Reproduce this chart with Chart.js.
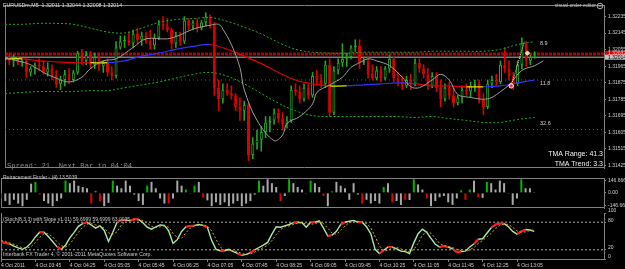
<!DOCTYPE html>
<html><head><meta charset="utf-8">
<script src="https://cdn.jsdelivr.net/npm/chart.js@4/dist/chart.umd.min.js"></script>
<style>
html,body{margin:0;padding:0;background:#000;width:625px;height:269px;overflow:hidden}
canvas{position:absolute;left:0}
</style></head><body>
<canvas id="c1" width="625" height="173" style="top:0"></canvas>
<canvas id="c2" width="625" height="40" style="top:173px"></canvas>
<canvas id="c3" width="625" height="61" style="top:208px"></canvas>
<script>
// ---------- DATA ----------
const openP = [1.32005,1.32015,1.31994,1.32005,1.31984,1.31994,1.31931,1.31952,1.31973,1.31963,
1.31931,1.31952,1.31911,1.31869,1.31890,1.31921,1.31890,1.31931,1.32036,1.31994,
1.32026,1.31973,1.32015,1.31963,1.31984,1.31931,1.31911,1.32067,1.32099,1.32109,
1.32088,1.32141,1.32109,1.32130,1.32099,1.32078,1.32120,1.32193,1.32182,1.32162,
1.32088,1.32130,1.32099,1.32214,1.32182,1.32203,1.32172,1.32203,1.32235,1.32193,
1.31848,1.31785,1.31837,1.31816,1.31806,1.31743,1.31722,1.31754,1.31482,1.31544,
1.31565,1.31607,1.31659,1.31670,1.31712,1.31680,1.31649,1.31670,1.31837,1.31827,
1.31785,1.31848,1.31806,1.31911,1.31890,1.31869,1.31973,1.31712,1.31942,1.31984,
1.32005,1.32015,1.32067,1.32078,1.31984,1.31994,1.31921,1.31900,1.31942,1.31900,
1.31952,1.32005,1.31900,1.31879,1.31858,1.31890,1.31869,1.31984,1.31952,1.31921,
1.31858,1.31911,1.31848,1.31785,1.31848,1.31806,1.31764,1.31795,1.31837,1.31827,
1.31858,1.31869,1.31785,1.31743,1.31869,1.31890,1.31879,1.31973,1.31952,1.31911,
1.31869,1.31973,1.32088,1.31994,1.32011];
const highP = [1.32046,1.32036,1.32026,1.32015,1.32005,1.32005,1.31963,1.31984,1.32005,1.31994,
1.31984,1.31973,1.31942,1.31911,1.31942,1.31952,1.31942,1.32046,1.32057,1.32046,
1.32046,1.32036,1.32036,1.31994,1.32005,1.31963,1.32099,1.32130,1.32130,1.32151,
1.32162,1.32172,1.32151,1.32151,1.32162,1.32141,1.32214,1.32235,1.32224,1.32172,
1.32151,1.32151,1.32235,1.32224,1.32214,1.32224,1.32214,1.32256,1.32245,1.32203,
1.31890,1.31869,1.31869,1.31858,1.31816,1.31795,1.31775,1.31764,1.31576,1.31618,
1.31638,1.31691,1.31691,1.31733,1.31733,1.31712,1.31691,1.31858,1.31869,1.31858,
1.31869,1.31869,1.31931,1.31942,1.31921,1.31994,1.32005,1.31963,1.32005,1.32088,
1.32036,1.32078,1.32109,1.32109,1.32015,1.32015,1.31973,1.31963,1.31963,1.31963,
1.32026,1.32015,1.31931,1.31911,1.31911,1.31921,1.32005,1.32005,1.31973,1.31952,
1.31931,1.31931,1.31890,1.31869,1.31879,1.31858,1.31806,1.31858,1.31869,1.31879,
1.31890,1.31890,1.31816,1.31890,1.31911,1.31921,1.31994,1.32067,1.31994,1.31931,
1.31994,1.32120,1.32099,1.32026,1.32044];
const lowP = [1.31984,1.31973,1.31963,1.31973,1.31963,1.31900,1.31911,1.31921,1.31942,1.31921,
1.31911,1.31890,1.31848,1.31837,1.31858,1.31869,1.31879,1.31921,1.31973,1.31973,
1.31952,1.31952,1.31942,1.31931,1.31911,1.31890,1.31900,1.32057,1.32067,1.32078,
1.32067,1.32088,1.32078,1.32088,1.32057,1.32057,1.32109,1.32162,1.32151,1.32057,
1.32067,1.32078,1.32088,1.32162,1.32162,1.32151,1.32162,1.32182,1.32172,1.31806,
1.31722,1.31764,1.31806,1.31785,1.31722,1.31670,1.31670,1.31450,1.31461,1.31513,
1.31502,1.31576,1.31607,1.31649,1.31659,1.31618,1.31628,1.31659,1.31806,1.31764,
1.31775,1.31785,1.31795,1.31869,1.31848,1.31848,1.31691,1.31701,1.31921,1.31963,
1.31963,1.32005,1.32046,1.31952,1.31973,1.31900,1.31890,1.31890,1.31879,1.31890,
1.31931,1.31879,1.31858,1.31837,1.31848,1.31837,1.31858,1.31931,1.31900,1.31837,
1.31848,1.31827,1.31743,1.31775,1.31785,1.31743,1.31754,1.31764,1.31806,1.31795,
1.31827,1.31764,1.31701,1.31733,1.31848,1.31858,1.31869,1.31931,1.31890,1.31837,
1.31858,1.31952,1.31963,1.31973,1.32008];
const closeP = [1.32015,1.31994,1.32005,1.31984,1.31994,1.31931,1.31952,1.31973,1.31963,1.31931,
1.31952,1.31911,1.31869,1.31890,1.31921,1.31890,1.31931,1.32036,1.31994,1.32026,
1.31973,1.32015,1.31963,1.31984,1.31931,1.31911,1.32067,1.32099,1.32109,1.32088,
1.32141,1.32109,1.32130,1.32099,1.32078,1.32120,1.32193,1.32182,1.32162,1.32088,
1.32130,1.32099,1.32214,1.32182,1.32203,1.32172,1.32203,1.32235,1.32193,1.31848,
1.31785,1.31837,1.31816,1.31806,1.31743,1.31722,1.31754,1.31482,1.31544,1.31565,
1.31607,1.31659,1.31670,1.31712,1.31680,1.31649,1.31670,1.31837,1.31827,1.31785,
1.31848,1.31806,1.31911,1.31890,1.31869,1.31973,1.31712,1.31942,1.31984,1.32005,
1.32015,1.32067,1.32078,1.31984,1.31994,1.31921,1.31900,1.31942,1.31900,1.31952,
1.32005,1.31900,1.31879,1.31858,1.31890,1.31869,1.31984,1.31952,1.31921,1.31858,
1.31911,1.31848,1.31785,1.31848,1.31806,1.31764,1.31795,1.31837,1.31827,1.31858,
1.31869,1.31785,1.31743,1.31869,1.31890,1.31879,1.31973,1.31952,1.31911,1.31869,
1.31973,1.32088,1.31994,1.32015,1.32014];

const bandBars = [0,4,8,12,16,20,24,28,32,36,40,44,48,52,56,60,64,68,72,76,80,84,88,92,96,100,104,108,112,116,120,124];
const upperBand = [1.32193,1.32193,1.32198,1.32198,1.32193,1.32172,1.32151,1.32146,1.32172,1.32203,1.32219,1.32224,1.32230,1.32209,1.32177,1.32141,1.32094,1.32057,1.32041,1.32036,1.32036,1.32041,1.32041,1.32041,1.32041,1.32046,1.32046,1.32046,1.32046,1.32057,1.32083,1.32099];
const midBand = [1.32005,1.32005,1.31994,1.31989,1.31984,1.31984,1.31984,1.31994,1.32020,1.32036,1.32057,1.32073,1.32083,1.32057,1.32020,1.31979,1.31931,1.31890,1.31869,1.31858,1.31858,1.31863,1.31869,1.31874,1.31869,1.31858,1.31858,1.31853,1.31853,1.31858,1.31874,1.31890];
const lowerBand = [1.31816,1.31822,1.31827,1.31827,1.31827,1.31832,1.31832,1.31848,1.31863,1.31879,1.31900,1.31921,1.31931,1.31911,1.31869,1.31816,1.31764,1.31722,1.31696,1.31691,1.31691,1.31691,1.31691,1.31691,1.31686,1.31691,1.31680,1.31670,1.31659,1.31659,1.31675,1.31686];
const midTrend = ['f','d','d','d','d','f','u','u','u','u','u','u','d','d','d','d','d','d','d','f','u','u','u','u','d','d','d','f','u','u','u'];

const maBars = [0,3,6,9,12,15,18,20,23,26,30,33,38,41,44,48,50,51,53,55,56,59,63,65,66,69,72,73,76,79,81,83,85,87,90,93,95,97,100,102,104,106,109,112,114,116,118,121,124,126];
const maVals = [1.32010,1.31994,1.31973,1.31931,1.31900,1.31879,1.31905,1.31952,1.31994,1.32005,1.32067,1.32114,1.32114,1.32135,1.32167,1.32188,1.32193,1.32167,1.32083,1.31958,1.31837,1.31670,1.31560,1.31591,1.31654,1.31691,1.31759,1.31822,1.31863,1.31905,1.31958,1.31984,1.32005,1.31994,1.31968,1.31905,1.31853,1.31848,1.31890,1.31921,1.31890,1.31811,1.31795,1.31785,1.31795,1.31827,1.31863,1.31942,1.31968,1.31994];

const orderLevel = 1.32032;
const bidLevel = 1.32014;
const dottedLevels = [1.31890, 1.31620];

const histVal = [-67,-98,-144,-83,-128,-159,-83,110,131,-21,
-98,-128,-159,-98,-67,147,116,147,86,70,
55,-128,24,-98,-159,-120,147,86,55,147,
86,-21,-98,-144,86,131,55,-67,-128,-128,
-67,147,86,40,-12,86,131,-50,-90,-159,
-113,-144,-113,-159,-128,-98,-159,-128,-98,-21,
147,86,162,116,70,-98,-37,162,116,70,
40,-12,147,116,70,-37,-159,18,131,86,
55,-83,116,-21,-128,-83,-128,-98,-128,70,
116,-113,-98,-144,-83,-85,162,101,40,-67,
-159,-98,-52,-37,-113,-144,-67,31,-83,40,
147,-52,-60,131,116,40,147,116,-12,-144,
-67,162,55,55,9];
const histKind = ('rnnnnnnngr'+'nnnnngnnnn'+'nrgrnngnnn'+'nnnngnnnnr'+'nnngrgnrnn'+'nnnnnnnnnn'+'gnnnnrngnn'+'nrgnnrngnn'+'nnnnrnnnng'+'nrnnrngnnr'+'nnnnnnngrg'+'nrngnnnnrn'+'ngnnn').split('');

const stochMain = [37,35,33,28,24,21,26,35,48,58,
58,49,38,27,21,30,46,58,71,77,
80,74,67,72,62,38,58,80,85,85,
83,87,86,79,69,65,70,74,73,61,
34,42,60,70,72,73,75,73,69,40,
21,18,18,21,16,12,8,10,14,20,
25,30,36,54,70,69,72,75,79,80,
79,69,80,80,83,67,50,52,60,75,
80,82,84,80,80,70,55,21,12,19,
26,26,22,17,16,12,35,55,65,58,
45,32,26,28,26,22,15,16,17,26,
33,43,44,56,68,75,77,77,70,60,
54,60,64,63,60];
const stochSignal = [40,38,35,32,28,24,24,27,36,47,
55,55,48,38,29,26,32,45,58,69,
76,77,74,71,67,57,53,59,74,83,
84,85,85,84,78,71,68,70,72,69,
56,46,45,57,67,72,73,74,72,61,
43,26,19,19,18,16,12,10,11,15,
20,25,30,40,53,64,70,72,75,78,
79,76,76,76,81,77,67,56,54,62,
72,79,82,82,81,77,68,49,29,17,
19,24,25,22,18,15,21,34,52,59,
56,45,34,29,27,25,21,18,16,20,
25,34,40,48,56,66,73,76,75,69,
61,58,59,62,63];
const stochFlatRanges = [[0,2],[9,10],[13,14],[19,20],[27,29],[30,32],[43,45],[47,48],[51,52],[55,56],[58,59],[68,69],[72,73],[76,77],[79,80],[83,84],[88,89],[90,91],[102,104],[105,107],[110,111],[114,117],[120,122]];

const tickBars = [0,8,16,24,32,40,48,56,64,72,80,88,96,104,112,120];
const tickLabels = ['4 Oct 2011','4 Oct 03:45','4 Oct 04:25','4 Oct 05:05','4 Oct 05:45','4 Oct 06:25','4 Oct 07:05','4 Oct 07:45','4 Oct 08:25','4 Oct 09:05','4 Oct 09:45','4 Oct 10:25','4 Oct 11:05','4 Oct 11:45','4 Oct 12:25','4 Oct 13:05'];
const priceTicks = [1.31425,1.31515,1.31605,1.31695,1.31785,1.31875,1.31965,1.32055,1.32145,1.32235];
const histTicks = [146.666,0,-146.666];
const stochTicks = [100,80,20,0];
const stochLevels = [80,20];
const markerDot = {x:118.5, y:1.31858};
const markerDiamond = {x:122.3, y:1.32036};

// ---------- STYLE / HELPERS ----------
Chart.defaults.font.family = "'Liberation Sans', Arial, sans-serif";
const X_MIN = 0, X_MAX = 140.23;
const GRAY = '#808080', TXT = '#cfcfcf';
const UP = '#22a822', DN = '#dc0000';
const trendColor = {u:'#3030ff', d:'#e00000', f:'#e6e600'};
const histColor = {g:'#00b400', r:'#e80000', n:'#a8a8a8'};
const idx = openP.map((_, i) => i);
const isUp = i => closeP[i] >= openP[i];
const pts = (xs, ys) => xs.map((x, k) => ({x, y: ys[k]}));
const flat = (lvl) => [{x:X_MIN, y:lvl}, {x:X_MAX, y:lvl}];

const base = {responsive:false, animation:false, events:[], plugins:{legend:{display:false}, tooltip:{enabled:false}}};

function xAxis(show){
  const a = {type:'linear', min:X_MIN, max:X_MAX, offset:false, display:show, grid:{display:false, offset:false}};
  if (show) {
    Object.assign(a, {
      afterBuildTicks(s){ s.ticks = tickBars.map(v => ({value:v})); },
      afterFit(s){ s.height = 10; },
      ticks:{autoSkip:false, maxRotation:0, align:'start', padding:1, color:TXT, font:{size:5},
        callback:(v) => tickLabels[tickBars.indexOf(v)] || ''},
      grid:{display:true, drawOnChartArea:false, drawTicks:true, tickLength:3, color:GRAY, offset:false},
      border:{display:true, color:GRAY}
    });
  }
  return a;
}
function yAxis(min, max, ticks, fmt, lo){
  return {type:'linear', position:'right', min, max, beginAtZero:false,
    afterFit(s){ s.width = 21; },
    afterBuildTicks(s){ s.ticks = ticks.map(v => ({value:v})); },
    ticks:{autoSkip:false, callback:fmt, color:TXT, font:{size:5}, padding:2, labelOffset:lo||0},
    grid:{display:true, drawOnChartArea:false, drawTicks:true, tickLength:2, color:GRAY},
    border:{display:true, color:GRAY}};
}
function frame(top, bottom){
  return {id:'frame', beforeDatasetsDraw(ch){
    const {ctx, chartArea:a} = ch; ctx.save(); ctx.strokeStyle = GRAY; ctx.lineWidth = 1; ctx.beginPath();
    if (top){ ctx.moveTo(a.left, a.top+0.5); ctx.lineTo(a.right, a.top+0.5); }
    if (bottom){ ctx.moveTo(a.left, a.bottom-0.5); ctx.lineTo(a.right, a.bottom-0.5); }
    ctx.moveTo(a.left+0.5, a.top); ctx.lineTo(a.left+0.5, a.bottom);
    ctx.stroke(); ctx.restore(); }};
}
function texts(items){
  return {id:'texts', afterDraw(ch){
    const ctx = ch.ctx; ctx.save(); ctx.textBaseline = 'middle';
    items.forEach(t => {
      ctx.font = t.size + 'px ' + (t.mono ? "'Liberation Mono', monospace" : "'Liberation Sans', Arial, sans-serif");
      ctx.fillStyle = t.color || TXT; ctx.textAlign = t.align || 'left';
      ctx.fillText(t.t, t.x, t.y);
    });
    ctx.restore(); }};
}

// ---------- MAIN PANEL ----------
const priceBoxes = {id:'priceBoxes', afterDraw(ch){
  const ctx = ch.ctx, ys = ch.scales.y, a = ch.chartArea; ctx.save();
  ctx.font = "5px 'Liberation Sans', Arial"; ctx.textBaseline = 'middle'; ctx.textAlign = 'left';
  let y = ys.getPixelForValue(orderLevel);
  ctx.fillStyle = '#e00000'; ctx.fillRect(a.right+1, y-3, 624-a.right, 6);
  ctx.fillStyle = '#ffd0d0'; ctx.fillText(orderLevel.toFixed(5), a.right+4, y);
  y = ys.getPixelForValue(bidLevel);
  ctx.fillStyle = '#c4c4c4'; ctx.fillRect(a.right+1, y-2.5, 624-a.right, 5);
  ctx.fillStyle = '#000'; ctx.fillText(bidLevel.toFixed(5), a.right+4, y);
  ctx.strokeStyle = '#b0b0b0'; ctx.lineWidth = 1; ctx.beginPath(); ctx.arc(600, 6, 2.8, 0, Math.PI*2); ctx.stroke();
  ctx.beginPath(); ctx.moveTo(598.5, 6); ctx.lineTo(601.5, 6); ctx.stroke();
  ctx.restore(); }};

new Chart(document.getElementById('c1'), {
  type:'bar',
  data:{datasets:[
    {type:'line', data:flat(orderLevel), borderColor:'#b00000', borderWidth:3, borderDash:[3,1], pointRadius:0, order:20},
    {type:'line', data:flat(bidLevel), borderColor:'#b8b8b8', borderWidth:1, pointRadius:0, order:19},
    {type:'line', data:flat(dottedLevels[0]), borderColor:'#5a5a5a', borderWidth:1, borderDash:[1,3], pointRadius:0, order:18},
    {type:'line', data:flat(dottedLevels[1]), borderColor:'#5a5a5a', borderWidth:1, borderDash:[1,3], pointRadius:0, order:18},
    {data:idx.map(i => ({x:i, y:[lowP[i], highP[i]]})), backgroundColor:idx.map(i => isUp(i)?UP:DN),
      barThickness:1, grouped:false, inflateAmount:0.3, order:12},
    {data:idx.map(i => ({x:i, y:[openP[i], closeP[i]]})), backgroundColor:idx.map(i => isUp(i)?'#000':DN),
      borderColor:idx.map(i => isUp(i)?UP:DN), borderWidth:1, borderSkipped:false, barThickness:3, minBarLength:1,
      grouped:false, inflateAmount:0, order:11},
    {type:'line', data:pts(bandBars, upperBand), borderColor:'#18b018', borderWidth:1, borderDash:[2,2], pointRadius:0, tension:0.35, order:5},
    {type:'line', data:pts(bandBars, lowerBand), borderColor:'#18b018', borderWidth:1, borderDash:[2,2], pointRadius:0, tension:0.35, order:5},
    {type:'line', data:pts(bandBars, midBand), borderColor:'#e00000', borderWidth:1.2, pointRadius:0, tension:0.35, order:4,
      segment:{borderColor: c => trendColor[midTrend[c.p0DataIndex]]}},
    {type:'line', data:pts(maBars, maVals), borderColor:'#9a9a9a', borderWidth:1, pointRadius:0, tension:0.35, order:3},
    {type:'line', data:[markerDot, {x:121.6, y:1.32099}], borderColor:'#e0e0e0', borderWidth:1, borderDash:[1,1], pointRadius:0, order:2},
    {type:'line', data:[markerDot], showLine:false, pointRadius:2.2, pointBackgroundColor:'#ff3030', pointBorderColor:'#ffffff', pointBorderWidth:1, order:1},
    {type:'line', data:[markerDiamond], showLine:false, pointStyle:'rectRot', pointRadius:2.4, pointBackgroundColor:'#f0e090', pointBorderColor:'#ffffff', pointBorderWidth:0.5, order:1}
  ]},
  options:Object.assign({}, base, {
    layout:{padding:{left:1, top:2, bottom:1, right:0}},
    scales:{x:xAxis(false), y:yAxis(1.31411, 1.32298, priceTicks, v => Number(v).toFixed(5))}
  }),
  plugins:[frame(true, true), priceBoxes, texts([
    {t:'EURUSDm,M5  1.32011 1.32044 1.32008 1.32014', x:3, y:6, size:5.3, color:'#dcdcdc'},
    {t:'visual order editor', x:596, y:6, size:5.2, align:'right', color:'#c0c0c0'},
    {t:'8.9', x:540, y:43, size:5.5},
    {t:'11.8', x:540, y:83, size:5.5},
    {t:'32.6', x:540, y:123, size:5.5},
    {t:'Spread: 21. Next Bar in 04:04', x:7, y:166, size:7.2, mono:true, color:'#8a8a8a'},
    {t:'TMA Range: 41.3', x:603, y:154, size:7, align:'right', color:'#f0f0f0'},
    {t:'TMA Trend: 3.3', x:603, y:164, size:7, align:'right', color:'#f0f0f0'}
  ])]
});

// ---------- RETRACEMENT FINDER ----------
new Chart(document.getElementById('c2'), {
  type:'bar',
  data:{datasets:[
    {data:idx.map(i => ({x:i, y:histVal[i]})), backgroundColor:idx.map(i => histColor[histKind[i]]),
      barThickness:2, grouped:false, inflateAmount:0}
  ]},
  options:Object.assign({}, base, {
    layout:{padding:{left:1, top:0, bottom:0, right:0}},
    scales:{x:xAxis(false), y:yAxis(-181, 178, histTicks, v => v === 0 ? '0.00' : Number(v).toFixed(3))}
  }),
  plugins:[frame(true, true), texts([
    {t:'Retracement Finder - (4) 13.5039', x:3, y:5, size:5, color:'#c8c8c8'}
  ])]
});

// ---------- STOCH ----------
const inFlat = k => stochFlatRanges.some(r => k >= r[0] && k < r[1]);
new Chart(document.getElementById('c3'), {
  type:'line',
  data:{datasets:[
    {data:flat(stochLevels[0]), borderColor:'#b0b0b0', borderWidth:1, borderDash:[2,2], pointRadius:0, order:9},
    {data:flat(stochLevels[1]), borderColor:'#b0b0b0', borderWidth:1, borderDash:[2,2], pointRadius:0, order:9},
    {data:idx.map(i => ({x:i, y:stochMain[i]})), borderColor:'#a8e8a8', borderWidth:1.4, pointRadius:0, order:5},
    {data:idx.map(i => ({x:i, y:stochMain[i]})), borderColor:'rgba(0,0,0,0)', borderWidth:2, pointRadius:0, order:4,
      segment:{borderColor: c => inFlat(c.p0DataIndex) ? '#ff1818' : 'rgba(0,0,0,0)'}},
    {data:idx.map(i => ({x:i, y:stochSignal[i]})), borderColor:'#e0a000', borderWidth:1, borderDash:[2,2], pointRadius:0, order:3}
  ]},
  options:Object.assign({}, base, {
    layout:{padding:{left:1, top:5, bottom:0, right:0}},
    scales:{x:xAxis(true), y:yAxis(0, 100, stochTicks, v => String(v), -2)}
  }),
  plugins:[frame(false, false), texts([
    {t:'(Stoch(8,3,3) with Slope v1.01) 59.6999 59.6999 63.0035', x:3, y:12, size:5, color:'#c8c8c8'},
    {t:'Interbank FX Trader 4, \u00a9 2001-2011 MetaQuotes Software Corp.', x:3, y:47, size:5.2, color:'#c8c8c8'}
  ])]
});
</script>
</body></html>
